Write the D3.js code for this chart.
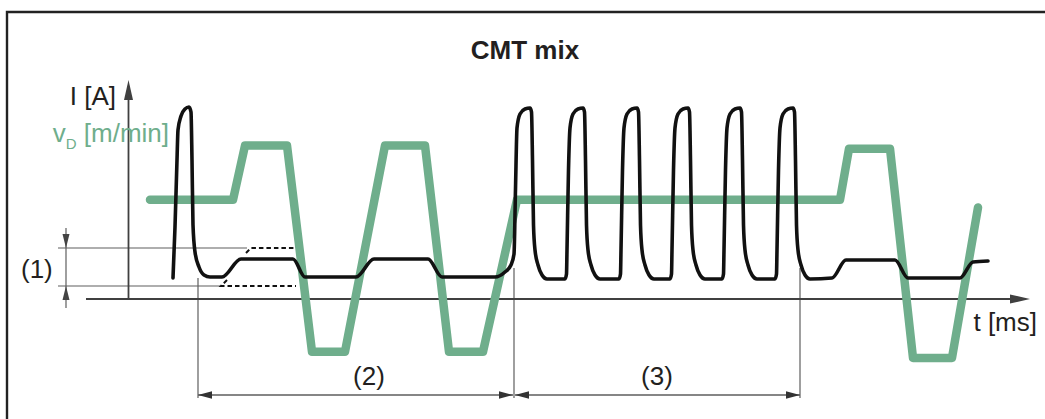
<!DOCTYPE html>
<html><head><meta charset="utf-8">
<script src="https://cdn.jsdelivr.net/npm/d3@7"></script>
<style>html,body{margin:0;padding:0;background:#fff;overflow:hidden}</style>
</head><body><div id="chart"></div>
<script>
// ---------- data ----------
const chartTitle = "CMT mix";
const currentLabel = "I [A]";
const wireLabelParts = ["v", "D", " [m/min]"];
const timeLabel = "t [ms]";

// wire feed speed v_D [m/min] over t [ms]
const wirePoints = [[2.0,6.4],[10.3,6.4],[11.5,9.9],[15.7,9.9],[18.2,-3.4],[21.5,-3.4],[25.5,9.9],[29.5,9.9],
  [31.9,-3.4],[35.3,-3.4],[38.7,6.4],[71.0,6.4],[71.9,9.7],[76.0,9.7],[78.3,-3.8],[82.2,-3.8],[84.8,5.9]];

// welding current I [A] over t [ms]
const currentPoints = [
  [4.3,21],[4.5,72],[4.7,139],[4.8,169],[5.1,183],[5.5,190],[5.9,192],[6.1,187],[6.2,139],[6.3,74],[6.5,47],[6.9,32],[7.4,24],[8.0,22],
  [9.2,22],[11.1,40],[16.3,40],[17.5,22],[22.6,22],[24.4,40],[29.8,40],[31.2,22],[36.5,22],[37.5,27],[38.1,34],[38.4,45],
  [38.55,110],[38.7,171],[39.0,185],[39.5,190],[40.0,191],[40.15,187],[40.25,139],[40.35,74],[40.5,49],[40.8,34],[41.2,24],[41.7,20],
  [43.5,20],[43.65,25],[43.7,49],[43.85,129],[44.0,171],[44.3,185],[44.8,190],[45.3,191],[45.45,187],[45.55,139],[45.65,74],[45.8,49],[46.1,34],[46.5,24],[47.0,20],
  [48.9,20],[49.05,25],[49.1,49],[49.25,129],[49.4,171],[49.7,185],[50.2,190],[50.7,191],[50.85,187],[50.95,139],[51.05,74],[51.2,49],[51.5,34],[51.9,24],[52.4,20],
  [54.0,20],[54.15,25],[54.2,49],[54.35,129],[54.5,171],[54.8,185],[55.3,190],[55.8,191],[55.95,187],[56.05,139],[56.15,74],[56.3,49],[56.6,34],[57.0,24],[57.5,20],
  [59.2,20],[59.35,25],[59.4,49],[59.55,129],[59.7,171],[60.0,185],[60.5,190],[61.0,191],[61.15,187],[61.25,139],[61.35,74],[61.5,49],[61.8,34],[62.2,24],[62.7,20],
  [64.5,20],[64.65,25],[64.7,49],[64.85,129],[65.0,171],[65.3,185],[65.8,190],[66.3,191],[66.45,187],[66.55,139],[66.65,74],[66.8,49],[67.1,34],[67.5,24],[68.0,20],
  [70.2,21],[71.6,39],[76.5,39],[77.8,21],[83.0,21],[84.3,37],[85.8,38]
];

// (1) band of current levels, dashed alternative ramp
const bandLevels = [13, 51];
const bandLabel = "(1)";
const dashedUpper = [[11.6,46],[12.1,51],[16.6,51]];
const dashedLower = [[9.7,19],[9.1,13],[16.6,13]];

// phases (2) and (3)
const phaseBounds = [6.8, 38.4, 67.0];
const phaseExtTop = [21, 31, 31];
const phaseLabels = ["(2)", "(3)"];
const phaseLabelT = [23.9, 52.7];

// ---------- drawing ----------
const W = 1045, H = 419;
const FONT = "'Liberation Sans', Arial, Helvetica, sans-serif";
const GREEN = "#6fae8c", INK = "#231f20", GREY = "#5e5e5e", AXIS = "#404040";

const svg = d3.select("#chart").append("svg").attr("width", W).attr("height", H)
  .style("display", "block").style("font-family", FONT);

const x = d3.scaleLinear().domain([0, 90]).range([130, 1030]);
const yI = d3.scaleLinear().domain([0, 200]).range([299, 99]);
const yV = d3.scaleLinear().domain([0, 10]).range([299, 144]);

// frame (open to the right and bottom)
svg.append("path").attr("d", `M7,${H + 10}V12H${W + 10}`)
  .attr("fill", "none").attr("stroke", "#222").attr("stroke-width", 2.4);

const g = svg.append("g");

const thin = (x1, y1, x2, y2, w = 1.2, c = GREY) => g.append("line")
  .attr("x1", x1).attr("y1", y1).attr("x2", x2).attr("y2", y2)
  .attr("stroke", c).attr("stroke-width", w);
const tri = (pts, c = AXIS) => g.append("path")
  .attr("d", "M" + pts.map(p => p.join(",")).join("L") + "Z").attr("fill", c);

// band guide lines
thin(x(-7.2), yI(bandLevels[1]), x(11.7), yI(bandLevels[1]));
thin(x(-7.2), yI(bandLevels[0]), x(9.0), yI(bandLevels[0]));
const bx = x(-6.4);
thin(bx, yI(71), bx, yI(-9));
tri([[bx, yI(bandLevels[1])], [bx - 3.5, yI(bandLevels[1]) - 14], [bx + 3.5, yI(bandLevels[1]) - 14]], "#444");
tri([[bx, yI(bandLevels[0])], [bx - 3.5, yI(bandLevels[0]) + 14], [bx + 3.5, yI(bandLevels[0]) + 14]], "#444");

// phase extension lines & dimension arrows
const dimY = 395;
phaseBounds.forEach((t, i) => thin(x(t), yI(phaseExtTop[i]), x(t), dimY + 3));
for (let i = 0; i < phaseBounds.length - 1; i++) {
  const a = x(phaseBounds[i]) + (i > 0 ? 1 : 0), b = x(phaseBounds[i + 1]) - (i === 0 ? 1 : 0);
  thin(a, dimY, b, dimY, 1.4);
  tri([[a, dimY], [a + 14, dimY - 3.8], [a + 14, dimY + 3.8]], "#333");
  tri([[b, dimY], [b - 14, dimY - 3.8], [b - 14, dimY + 3.8]], "#333");
}

// axes
thin(x(-4.4), yI(0), x(88), yI(0), 1.8, AXIS);
tri([[x(90), yI(0)], [x(90) - 20, yI(0) - 4.5], [x(90) - 20, yI(0) + 4.5]]);
const ax = x(-0.15);
thin(ax, yI(0), ax, yI(205), 1.8, AXIS);
tri([[ax, yI(219)], [ax - 4.5, yI(219) + 20], [ax + 4.5, yI(219) + 20]]);

// dashed alternatives
const lineI = d3.line().x(d => x(d[0])).y(d => yI(d[1]));
[dashedUpper, dashedLower].forEach(d => g.append("path").attr("d", lineI(d))
  .attr("fill", "none").attr("stroke", "#111").attr("stroke-width", 2).attr("stroke-dasharray", "4.5,3"));

// wire speed
g.append("path").datum(wirePoints)
  .attr("d", d3.line().x(d => x(d[0])).y(d => yV(d[1])))
  .attr("fill", "none").attr("stroke", GREEN).attr("stroke-width", 8.5)
  .attr("stroke-linejoin", "round").attr("stroke-linecap", "round");

// current
g.append("path").datum(currentPoints)
  .attr("d", d3.line().curve(d3.curveMonotoneX).x(d => x(d[0])).y(d => yI(d[1])))
  .attr("fill", "none").attr("stroke", "#111").attr("stroke-width", 3.6)
  .attr("stroke-linejoin", "round").attr("stroke-linecap", "round");

// texts
svg.append("text").attr("x", 525).attr("y", 59).attr("text-anchor", "middle")
  .attr("font-size", 26).attr("font-weight", "bold").attr("fill", INK).text(chartTitle);
svg.append("text").attr("x", 116).attr("y", 105).attr("text-anchor", "end")
  .attr("font-size", 26).attr("fill", INK).text(currentLabel);
const vt = svg.append("text").attr("x", 169).attr("y", 142).attr("text-anchor", "end")
  .attr("font-size", 26).attr("fill", GREEN);
vt.append("tspan").text(wireLabelParts[0]);
vt.append("tspan").attr("font-size", 15).attr("dy", 7).text(wireLabelParts[1]);
vt.append("tspan").attr("dy", -7).text(wireLabelParts[2]);
svg.append("text").attr("x", 1037).attr("y", 331).attr("text-anchor", "end")
  .attr("font-size", 26).attr("fill", INK).text(timeLabel);
svg.append("text").attr("x", 21).attr("y", 278).attr("font-size", 26).attr("fill", INK).text(bandLabel);
phaseLabels.forEach((l, i) => svg.append("text").attr("x", x(phaseLabelT[i])).attr("y", 385)
  .attr("text-anchor", "middle").attr("font-size", 26).attr("fill", INK).text(l));
</script>
</body></html>
